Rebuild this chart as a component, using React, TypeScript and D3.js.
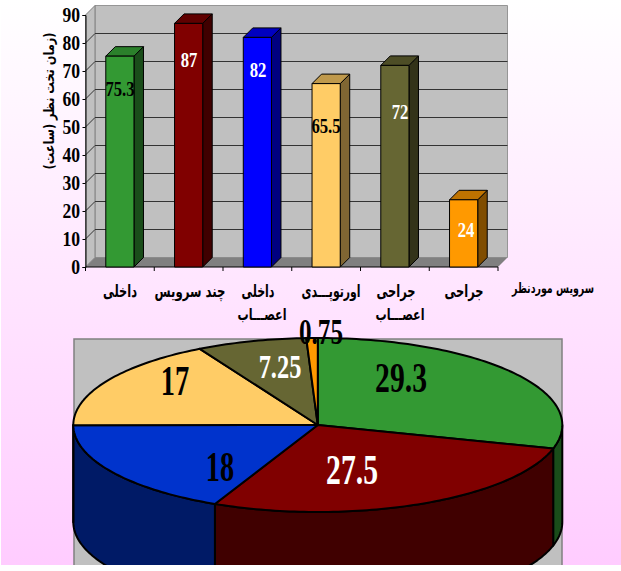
import { useEffect, useRef } from 'react'
import * as d3 from 'd3'

// service wards (two-line names split on the newline)
const wards = ['داخلی', 'چند سرویس', 'داخلی\nاعصـــاب', 'اورتوپـــدی', 'جراحی\nاعصـــاب', 'جراحی']
const hours = [75.3, 87, 82, 65.5, 72, 24]
const hourLabels = ['75.3', '87', '82', '65.5', '72', '24']
const share = [29.3, 27.5, 18, 17, 7.25, 0.75]
const shareLabels = ['29.3', '27.5', '18', '17', '7.25', '0.75']

const yTitle = '(زمان تخت نظر (ساعت)'
const xTitle = 'سرویس موردنظر'

const front = ['#339933', '#800000', '#0000ff', '#ffcc66', '#666633', '#ff9900']
const top3d = ['#2b802b', '#600000', '#0000c0', '#bf994c', '#4d4d26', '#bf7300']
const side3d = ['#1a4d1a', '#400000', '#000080', '#806633', '#333319', '#804d00']
const pieTop = ['#339933', '#800000', '#0033cc', '#ffcc66', '#666633', '#ff9900']
const pieSide = ['#1a4d1a', '#400000', '#001a66', '#806633', '#333319', '#804d00']

const barText = ['#000', '#fff', '#fff', '#000', '#fff', '#fff']
const pieText = ['#000', '#fff', '#000', '#000', '#fff', '#000']

// hand placed in the original, so they are layout here
const barLabelPos = [[120, 96], [189, 67], [258, 77], [326, 133], [400, 119], [466, 237]]
const pieLabelPos = [[401, 392], [352, 484], [220, 481], [175, 395], [280, 378], [321, 344]]
const pieLabelSize = [43, 43, 43, 43, 33, 36]
const pieLabelSqueeze = [0.69, 0.69, 0.66, 0.66, 0.74, 0.7]
const wardLabelPos = [[120, 297], [190, 297], [258, 297], [331, 297], [396, 297], [464, 297]]
const wardLabelWidth = [34, 71, 33, 59, 39, 39]
const secondLinePos = [[0, 0], [0, 0], [262, 320], [0, 0], [400, 320], [0, 0]]

const serif = "'Liberation Serif', 'Times New Roman', serif"
const naskh = "'DejaVu Sans', sans-serif"

export default function App() {
  const svgRef = useRef<SVGSVGElement | null>(null)

  useEffect(() => {
    if (!svgRef.current) return
    const svg = d3.select(svgRef.current)
    svg.selectAll('*').remove()

    const defs = svg.append('defs')
    const grad = defs.append('linearGradient').attr('id', 'bg').attr('x1', 0).attr('y1', 0).attr('x2', 0).attr('y2', 1)
    grad.append('stop').attr('offset', '0%').attr('stop-color', '#ffffff')
    grad.append('stop').attr('offset', '100%').attr('stop-color', '#ffccff')
    defs.append('clipPath').attr('id', 'picture').append('rect').attr('x', 1).attr('y', 0).attr('width', 620).attr('height', 565)

    svg.append('rect').attr('x', 0).attr('y', 0).attr('width', 621).attr('height', 571).attr('fill', '#fff')
    const root = svg.append('g').attr('clip-path', 'url(#picture)')
    root.append('rect').attr('x', 1).attr('y', 0).attr('width', 620).attr('height', 565).attr('fill', 'url(#bg)')

    // --- bar chart ---
    const depth = 9.5
    const x0 = 85.5
    const x1 = 498
    const y = d3.scaleLinear().domain([0, 90]).range([267, 15])
    const x = d3.scaleBand<number>().domain(d3.range(wards.length)).range([x0, x1]).paddingInner(0.59).paddingOuter(0.295)
    const band = (x1 - x0) / wards.length

    const poly = (pts: number[][]) => 'M' + pts.map(p => p.join(',')).join('L') + 'Z'

    // walls and floor
    root.append('path').attr('d', poly([[x0 + depth, y(90) - depth], [x1 + depth, y(90) - depth], [x1 + depth, y(0) - depth], [x0 + depth, y(0) - depth]]))
      .attr('fill', '#c0c0c0').attr('stroke', '#969696').attr('stroke-width', 1)
    root.append('path').attr('d', poly([[x0, y(90)], [x0 + depth, y(90) - depth], [x0 + depth, y(0) - depth], [x0, y(0)]]))
      .attr('fill', '#c0c0c0').attr('stroke', '#808080').attr('stroke-width', 1)
    root.append('path').attr('d', poly([[x0, y(0)], [x0 + depth, y(0) - depth], [x1 + depth, y(0) - depth], [x1, y(0)]]))
      .attr('fill', '#808080')

    // gridlines, folded over the left wall
    const ticks = y.ticks(9)
    ticks.filter(t => t > 0 && t < 90).forEach(t => {
      root.append('path').attr('d', `M${x0},${y(t)}L${x0 + depth},${y(t) - depth}L${x1 + depth},${y(t) - depth}`)
        .attr('fill', 'none').attr('stroke', '#333').attr('stroke-width', 1)
    })

    // axes
    const axisY = root.append('g').attr('transform', `translate(${x0},0)`)
      .call(d3.axisLeft(y).tickValues(ticks).tickSize(3).tickPadding(2))
    axisY.select('.domain').attr('stroke', '#000')
    axisY.selectAll('line').attr('stroke', '#000')
    axisY.selectAll('text').remove()
    ticks.forEach(t => {
      root.append('text').text(t)
        .attr('transform', `translate(80,${y(t) + 7}) scale(0.84,1)`)
        .attr('text-anchor', 'end').attr('font-family', serif).attr('font-weight', 700).attr('font-size', 21).attr('fill', '#000')
    })
    root.append('line').attr('x1', x0).attr('x2', x1).attr('y1', y(0)).attr('y2', y(0)).attr('stroke', '#000')
    d3.range(wards.length + 1).forEach(i => {
      root.append('line').attr('x1', x0 + i * band).attr('x2', x0 + i * band).attr('y1', y(0)).attr('y2', y(0) + 4).attr('stroke', '#000')
    })

    // bars
    hours.forEach((v, i) => {
      const l = x(i) as number
      const r = l + x.bandwidth()
      const t = y(v)
      const b = y(0)
      const g = root.append('g').attr('stroke', '#000').attr('stroke-width', 1).attr('stroke-linejoin', 'round')
      g.append('path').attr('d', poly([[r, t], [r + depth, t - depth], [r + depth, b - depth], [r, b]])).attr('fill', side3d[i])
      g.append('path').attr('d', poly([[l, t], [l + depth, t - depth], [r + depth, t - depth], [r, t]])).attr('fill', top3d[i])
      g.append('rect').attr('x', l).attr('y', t).attr('width', x.bandwidth()).attr('height', b - t).attr('fill', front[i])
    })
    hourLabels.forEach((s, i) => {
      root.append('text').text(s)
        .attr('transform', `translate(${barLabelPos[i][0]},${barLabelPos[i][1]}) scale(0.76,1)`)
        .attr('text-anchor', 'middle').attr('font-family', serif).attr('font-weight', 700).attr('font-size', 22)
        .attr('fill', barText[i])
    })

    // category names
    const arabic = (s: string, px: number, py: number, w: number, size: number, weight: number) =>
      root.append('text').text(s).attr('x', px).attr('y', py)
        .attr('text-anchor', 'middle').attr('direction', 'rtl')
        .attr('font-family', naskh).attr('font-weight', weight).attr('font-size', size).attr('fill', '#000')
        .attr('textLength', w).attr('lengthAdjust', 'spacingAndGlyphs')
    wards.forEach((name, i) => {
      const parts = name.split('\n')
      arabic(parts[0], wardLabelPos[i][0], wardLabelPos[i][1], wardLabelWidth[i], 17, 700)
      if (parts[1]) arabic(parts[1], secondLinePos[i][0], secondLinePos[i][1], 49, 16, 700)
    })
    arabic(xTitle, 553, 293, 82, 14, 700)
    root.append('text').text(yTitle)
      .attr('transform', 'translate(54,101) rotate(-90)')
      .attr('text-anchor', 'middle').attr('direction', 'rtl')
      .attr('font-family', naskh).attr('font-weight', 700).attr('font-size', 14).attr('fill', '#000')
      .attr('textLength', 137).attr('lengthAdjust', 'spacingAndGlyphs')

    // --- pie ---
    const cx = 317.8
    const cy = 425
    const rx = 244.5
    const ry = 87
    const drop = 97

    root.append('rect').attr('x', 74).attr('y', 339).attr('width', 488).attr('height', 240)
      .attr('fill', '#c0c0c0').attr('stroke', '#808080').attr('stroke-width', 1.5)

    const slices = d3.pie<number>().sort(null).value(d => d)(share)
    const rimX = d3.scaleLinear().domain([0, 1]).range([cx, cx + rx])
    const rimY = d3.scaleLinear().domain([0, 1]).range([cy, cy - ry])
    const rim = (a: number, dy = 0): [number, number] => [rimX(Math.sin(a)), rimY(Math.cos(a)) + dy]
    const line = d3.line()
    const sweep = (a0: number, a1: number, dy = 0) => {
      const n = Math.max(2, Math.ceil((a1 - a0) / 0.02))
      return d3.range(n + 1).map(k => rim(a0 + ((a1 - a0) * k) / n, dy))
    }

    // the visible outer wall is only the front half of the rim
    slices.forEach((s, i) => {
      const a0 = Math.max(s.startAngle, Math.PI / 2)
      const a1 = Math.min(s.endAngle, (3 * Math.PI) / 2)
      if (a1 <= a0) return
      const pts = [...sweep(a0, a1), ...sweep(a0, a1, drop).reverse()]
      root.append('path').attr('d', line(pts) + 'Z').attr('fill', pieSide[i])
        .attr('stroke', '#000').attr('stroke-width', 2).attr('stroke-linejoin', 'round')
    })
    slices.forEach((s, i) => {
      const pts: [number, number][] = [[cx, cy], ...sweep(s.startAngle, s.endAngle)]
      root.append('path').attr('d', line(pts) + 'Z').attr('fill', pieTop[i])
        .attr('stroke', '#000').attr('stroke-width', 2).attr('stroke-linejoin', 'round')
    })
    shareLabels.forEach((s, i) => {
      root.append('text').text(s)
        .attr('transform', `translate(${pieLabelPos[i][0]},${pieLabelPos[i][1]}) scale(${pieLabelSqueeze[i]},1)`)
        .attr('text-anchor', 'middle').attr('font-family', serif).attr('font-weight', 700)
        .attr('font-size', pieLabelSize[i]).attr('fill', pieText[i])
    })
  }, [])

  return <svg ref={svgRef} width={621} height={571} style={{ position: 'absolute', left: 0, top: 0 }} />
}
